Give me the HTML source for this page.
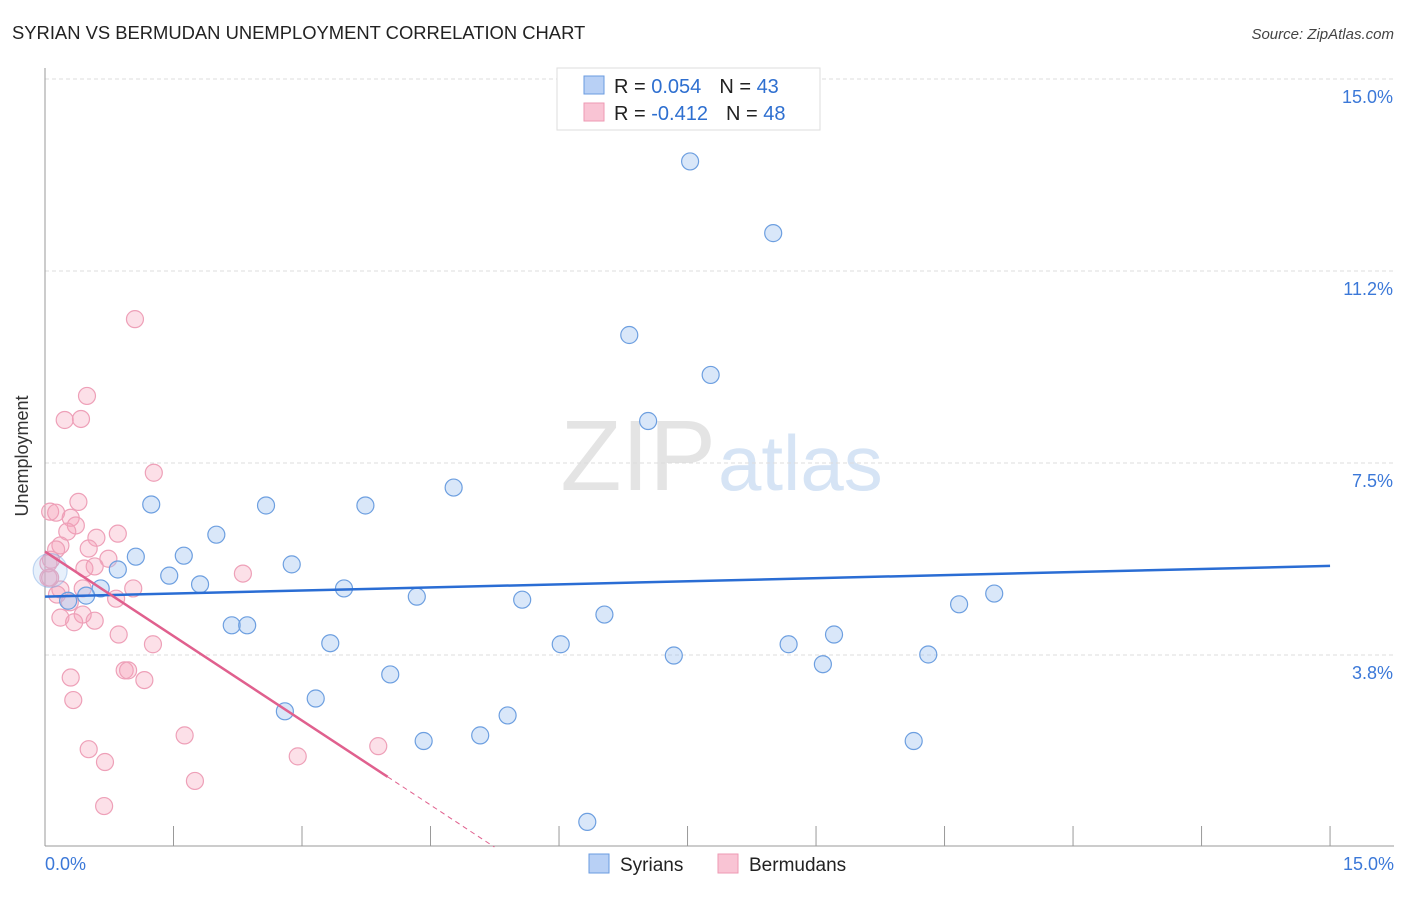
<!DOCTYPE html>
<html><head><meta charset="utf-8"><style>
body{margin:0;background:#fff;font-family:"Liberation Sans",sans-serif;}
svg text{font-family:"Liberation Sans",sans-serif;}
</style></head><body>
<svg id="chart" width="1406" height="892" xmlns="http://www.w3.org/2000/svg">
<text x="12" y="39" font-size="18.4" fill="#222">SYRIAN VS BERMUDAN UNEMPLOYMENT CORRELATION CHART</text>
<text x="1394" y="39" font-size="15" fill="#444" font-style="italic" text-anchor="end">Source: ZipAtlas.com</text>
<text x="716" y="490" font-size="100" fill="#e4e4e4" font-family="Liberation Serif" text-anchor="end">ZIP</text>
<text x="718" y="490" font-size="78" fill="#d6e4f5">atlas</text>
<g id="grid"></g>
<g id="axes"></g>
<g id="pts"></g>
<g id="trend"></g>
<text x="28" y="456" font-size="18" fill="#333" transform="rotate(-90 28 456)" text-anchor="middle">Unemployment</text>
<g>
<rect x="557" y="68" width="263" height="62" fill="#fff" stroke="#ddd"/>
<rect x="584" y="76" width="20" height="18" fill="#b8d0f5" stroke="#6a9be0"/>
<rect x="584" y="103" width="20" height="18" fill="#f9c4d4" stroke="#ee9ab3"/>
<text x="614" y="93" font-size="20" fill="#222">R = <tspan fill="#2e6fd0">0.054</tspan><tspan dx="18">N = </tspan><tspan fill="#2e6fd0">43</tspan></text>
<text x="614" y="120" font-size="20" fill="#222">R = <tspan fill="#2e6fd0">-0.412</tspan><tspan dx="18">N = </tspan><tspan fill="#2e6fd0">48</tspan></text>
</g>
<g>
<rect x="589" y="854" width="20" height="19" fill="#b8d0f5" stroke="#6a9be0"/>
<text x="620" y="871" font-size="19" fill="#222">Syrians</text>
<rect x="718" y="854" width="20" height="19" fill="#f9c4d4" stroke="#ee9ab3"/>
<text x="749" y="871" font-size="19" fill="#222">Bermudans</text>
</g>
</svg>
<script>
const syrX=[7.53,8.50,6.82,7.77,7.04,4.77,1.24,2.58,3.74,2.00,1.06,1.62,0.85,1.45,2.88,1.81,3.49,0.65,0.48,0.27,4.34,5.57,6.53,10.67,11.08,2.18,2.36,3.33,6.02,9.21,8.68,7.34,9.08,10.31,4.03,3.16,2.80,5.40,5.08,4.42,10.14,6.33,0.06];
const syrY=[13.39,11.99,10.0,9.22,8.32,7.02,6.69,6.67,6.67,6.10,5.67,5.69,5.42,5.30,5.52,5.13,5.05,5.05,4.91,4.81,4.89,4.83,4.54,4.74,4.95,4.33,4.33,3.98,3.96,4.15,3.96,3.74,3.57,3.76,3.37,2.90,2.65,2.57,2.18,2.07,2.07,0.49,5.40];
const berX=[1.05,0.49,0.23,0.42,1.27,0.39,0.06,0.13,0.30,0.36,0.85,0.26,0.60,0.18,0.51,0.13,0.74,0.07,0.46,0.58,2.31,0.04,1.03,0.18,0.44,0.14,0.83,0.29,0.44,0.18,0.58,0.34,0.86,1.26,0.30,0.93,0.97,1.16,0.33,1.63,0.51,0.70,2.95,3.89,1.75,0.69,0.06,0.04];
const berY=[10.31,8.81,8.34,8.36,7.31,6.74,6.55,6.53,6.43,6.28,6.12,6.16,6.04,5.89,5.83,5.81,5.63,5.61,5.44,5.48,5.34,5.26,5.05,5.03,5.05,4.93,4.85,4.78,4.54,4.48,4.42,4.39,4.15,3.96,3.31,3.45,3.45,3.26,2.87,2.18,1.91,1.66,1.77,1.97,1.29,0.80,5.26,5.54];
const syrTrend=[4.89,5.49];
const berTrend=[5.77,-1.10];
const yTicks=[3.8,7.5,11.2,15.0];
const yTickVals=[3.75,7.5,11.25,15];
const NS="http://www.w3.org/2000/svg";
const sx=v=>45+v*85.67, sy=v=>847-v*51.2;
function mk(t,a,p){const e=document.createElementNS(NS,t);for(const k in a)e.setAttribute(k,a[k]);p.appendChild(e);return e;}
const grid=document.getElementById('grid'),axes=document.getElementById('axes'),pts=document.getElementById('pts'),tr=document.getElementById('trend');
yTickVals.forEach((v,i)=>{
 const l=mk('line',{x1:45,x2:1394,y1:sy(v),y2:sy(v),stroke:'#ddd','stroke-dasharray':'4,3'},grid);
 
 
 const t=mk('text',{x:1393,y:sy(v)+24,'font-size':18,fill:'#3b78d8','text-anchor':'end'},grid);
 t.textContent=yTicks[i].toFixed(1)+'%';
 
 
});
let a=mk('line',{x1:45,x2:45,y1:68,y2:846,stroke:'#999'},axes);


a=mk('line',{x1:45,x2:1394,y1:846,y2:846,stroke:'#999'},axes);


for(let i=1;i<=10;i++){const t=mk('line',{x1:sx(i*1.5),x2:sx(i*1.5),y1:826,y2:846,stroke:'#999'},axes);
 
 }
[[0,'0.0%','start',45],[15,'15.0%','end',1394]].forEach(d=>{const t=mk('text',{x:d[3],y:870,'font-size':18,fill:'#3b78d8','text-anchor':d[2]},axes);t.textContent=d[1];
 
 });
berX.forEach((x,i)=>{const c=mk('circle',{cx:sx(x),cy:sy(berY[i]),r:8.5,fill:'rgba(245,160,185,0.33)',stroke:'#eea0b8','stroke-width':1.2},pts);
 
 });
syrX.forEach((x,i)=>{const big=i==42;const c=mk('circle',{cx:sx(x),cy:sy(syrY[i]),r:(big?17:8.5),fill:big?'rgba(160,195,240,0.25)':'rgba(160,195,240,0.4)',stroke:big?'rgba(109,159,224,0.4)':'#6d9fe0','stroke-width':1.2},pts);
 
 });
let l=mk('line',{x1:sx(0),y1:sy(syrTrend[0]),x2:sx(15),y2:sy(syrTrend[1]),stroke:'#2a6dd4','stroke-width':2.5},tr);


const bx1=4.0,bx2=-berTrend[0]/berTrend[1];
l=mk('line',{x1:sx(0),y1:sy(berTrend[0]),x2:sx(bx1),y2:sy(berTrend[0]+berTrend[1]*bx1),stroke:'#e0608e','stroke-width':2.5},tr);


l=mk('line',{x1:sx(bx1),y1:sy(berTrend[0]+berTrend[1]*bx1),x2:sx(bx2),y2:sy(0),stroke:'#e0608e','stroke-width':1,'stroke-dasharray':'5,4'},tr);


</script>
</body></html>
